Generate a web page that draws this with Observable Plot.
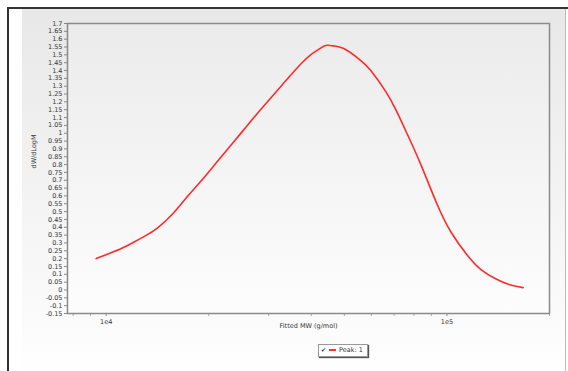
<!DOCTYPE html>
<html><head><meta charset="utf-8">
<script src="https://cdn.jsdelivr.net/npm/d3@7"></script>
<script src="https://cdn.jsdelivr.net/npm/@observablehq/plot@0.6"></script>
<style>
body{margin:0;background:#fff;font-family:"DejaVu Sans",Verdana,sans-serif;}
#wrap{position:relative;width:568px;height:371px;overflow:hidden;}
#win{position:absolute;left:7px;top:7px;width:570px;height:380px;border-top:2px solid #333;border-left:2px solid #333;box-sizing:border-box;}
#panel{position:absolute;left:22px;top:9px;width:543px;height:370px;background:linear-gradient(#e8e8e8,#fbfbfb 85%,#fff);border-right:1px solid #bbb;}
#area{position:absolute;left:67px;top:23px;width:482px;height:290px;background:linear-gradient(#ebebeb,#fdfdfd);}
#chart{position:absolute;left:0;top:0;}
#legend{position:absolute;left:318px;top:344px;width:48px;height:11px;background:#fff;border:1px solid #999;box-shadow:1px 1px 1px #555;font-size:6.5px;color:#333;line-height:11px;white-space:nowrap;}
#legend .cb{display:inline-block;width:6px;height:6px;margin:0 2px 0 2px;font-size:6px;line-height:6px;vertical-align:middle;}
#legend .ln{display:inline-block;width:7px;height:1.5px;background:#f33;vertical-align:middle;margin-right:3px;}
</style></head>
<body>
<div id="wrap">
<div id="win"></div>
<div id="panel"></div>
<div id="area"></div>
<div id="chart"></div>
<div id="legend"><span class="cb">✔</span><span class="ln"></span>Peak: 1</div>
</div>
<script>
const mw = [9346,10996,12003,13022,14125,15740,17190,18900,20925,23160,25630,28380,31420,34300,37200,39810,42030,44070,46520,49780,55100,59780,66160,70790,76290,83850,93450,102750,114500,125900,139400,152200,167300];
const dw = [0.20,0.262,0.303,0.345,0.395,0.49,0.588,0.69,0.805,0.92,1.035,1.15,1.26,1.355,1.44,1.50,1.535,1.56,1.557,1.54,1.475,1.40,1.265,1.15,1.00,0.80,0.55,0.37,0.225,0.13,0.07,0.035,0.015];
const yTicks = d3.range(-3, 35).map(i => +(i*0.05).toFixed(2));
const xMajor = [1e4, 1e5];
const xMinor = [8e3,9e3,2e4,3e4,4e4,5e4,6e4,7e4,8e4,9e4,2e5];
const data = mw.map((m,i)=>({m, w: dw[i]}));

const chart = Plot.plot({
  width: 568, height: 371,
  marginLeft: 67, marginRight: 19, marginTop: 23, marginBottom: 58,
  style: {background: "transparent", fontFamily: "DejaVu Sans, Verdana, sans-serif", fontSize: "6.5px", color: "#333"},
  x: {type: "log", domain: [7700, 200000], axis: null},
  y: {domain: [-0.15, 1.7], axis: null},
  marks: [
    Plot.axisY(yTicks, {tickSize: 3, tickPadding: 2, tickFormat: d => String(d), stroke: "#888", label: null}),
    Plot.axisX(xMinor, {tickSize: 3, tickFormat: () => "", stroke: "#aaa", label: null}),
    Plot.axisX(xMajor, {tickSize: 3, tickPadding: 3, tickFormat: d => d === 1e4 ? "1e4" : "1e5", stroke: "#888", label: null}),
    Plot.text(["dW/dLogM"], {frameAnchor: "left", rotate: -90, dx: -34, fill: "#333"}),
    Plot.text(["Fitted MW (g/mol)"], {frameAnchor: "bottom", dy: 14, fill: "#333"}),
    Plot.line(data, {x: "m", y: "w", curve: "natural", stroke: "#ff2a2a", strokeWidth: 1.6}),
    Plot.frame({stroke: "#8a8a8a", strokeWidth: 1.5})
  ]
});
document.getElementById("chart").appendChild(chart);
</script>
</body></html>
